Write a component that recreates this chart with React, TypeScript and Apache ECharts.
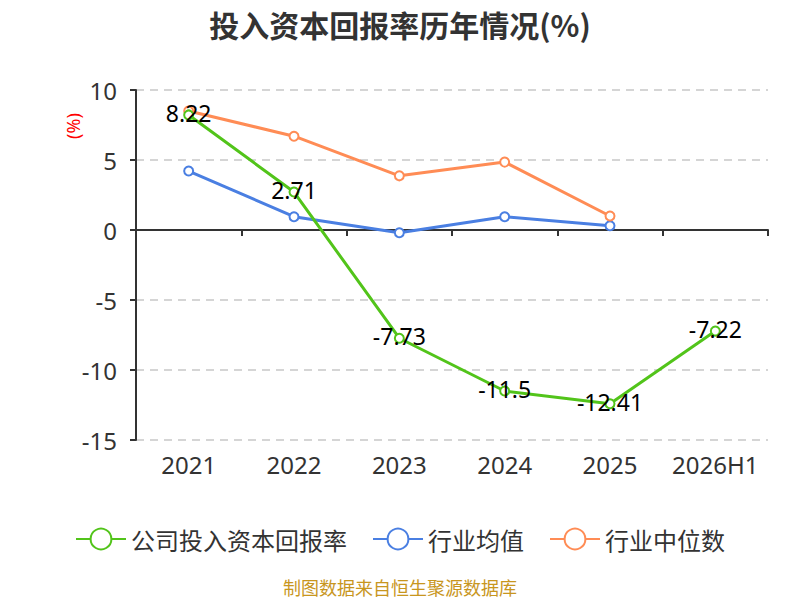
import { useEffect, useRef } from "react";
import * as echarts from "echarts";

const categories = ["2021", "2022", "2023", "2024", "2025", "2026H1"];
const companyRoic = [8.22, 2.71, -7.73, -11.5, -12.41, -7.22];
const industryMean = [4.21, 0.95, -0.2, 0.95, 0.3, null];
const industryMedian = [8.5, 6.7, 3.87, 4.85, 1.0, null];

const seriesNames = ["公司投入资本回报率", "行业均值", "行业中位数"];
const colors = ["#52c41a", "#4a7fe2", "#ff8c55"];

export default function App() {
  const chartRef = useRef<HTMLDivElement>(null);

  useEffect(() => {
    if (!chartRef.current) return;
    const chart = echarts.init(chartRef.current, undefined, { renderer: "svg" });

    const lineSeries = (name: string, data: (number | null)[], color: string, withLabel: boolean) => ({
      name,
      type: "line" as const,
      data,
      symbol: "emptyCircle",
      symbolSize: 9,
      lineStyle: { width: 3, color },
      itemStyle: { color, borderWidth: 2 },
      label: withLabel
        ? {
            show: true,
            position: "inside" as const,
            offset: [0, -2],
            color: "#000",
            fontSize: 23,
            fontFamily: "Noto Sans",
          }
        : { show: false },
      z: withLabel ? 3 : 2,
    });

    chart.setOption({
      animation: false,
      color: colors,
      title: {
        text: "投入资本回报率历年情况(%)",
        left: "center",
        top: 4,
        textStyle: {
          fontSize: 30,
          fontWeight: "bold",
          color: "#333",
          fontFamily: "Noto Sans CJK SC",
        },
      },
      grid: { left: 136, right: 32, top: 90, bottom: 160, outerBoundsMode: "none" },
      legend: {
        data: seriesNames,
        top: 522,
        left: "center",
        itemWidth: 50,
        itemHeight: 26,
        itemGap: 25,
        textStyle: { fontSize: 24, color: "#333", fontFamily: "Noto Sans CJK SC" },
      },
      xAxis: {
        type: "category",
        data: categories,
        axisLine: { onZero: true, lineStyle: { color: "#333", width: 2 } },
        axisTick: { show: true, length: 6, lineStyle: { color: "#333", width: 2 } },
        axisLabel: {
          interval: 0,
          color: "#333",
          fontSize: 24,
          margin: 12,
          fontFamily: "Noto Sans",
        },
      },
      yAxis: {
        type: "value",
        min: -15,
        max: 10,
        interval: 5,
        axisLine: { show: true, lineStyle: { color: "#333", width: 2 } },
        axisTick: { show: true, length: 6, lineStyle: { color: "#333", width: 2 } },
        axisLabel: { color: "#333", fontSize: 24, margin: 19, fontFamily: "Noto Sans" },
        splitLine: { lineStyle: { color: "#c8c8c8", type: [8, 6], width: 1.5 } },
      },
      graphic: [
        {
          type: "text",
          x: 73,
          y: 126,
          rotation: Math.PI / 2,
          style: {
            text: "(%)",
            fill: "#ff0000",
            fontSize: 18,
            fontFamily: "Noto Sans",
            align: "center",
            verticalAlign: "middle",
          },
        },
        {
          type: "text",
          left: "center",
          top: 578,
          style: {
            text: "制图数据来自恒生聚源数据库",
            fill: "#c8961e",
            fontSize: 18,
            fontFamily: "Noto Sans CJK SC",
          },
        },
      ],
      series: [
        lineSeries(seriesNames[0], companyRoic, colors[0], true),
        lineSeries(seriesNames[1], industryMean, colors[1], false),
        lineSeries(seriesNames[2], industryMedian, colors[2], false),
      ],
    });

    return () => chart.dispose();
  }, []);

  return (
    <div
      ref={chartRef}
      style={{ position: "absolute", left: 0, top: 0, width: 800, height: 600 }}
    />
  );
}
